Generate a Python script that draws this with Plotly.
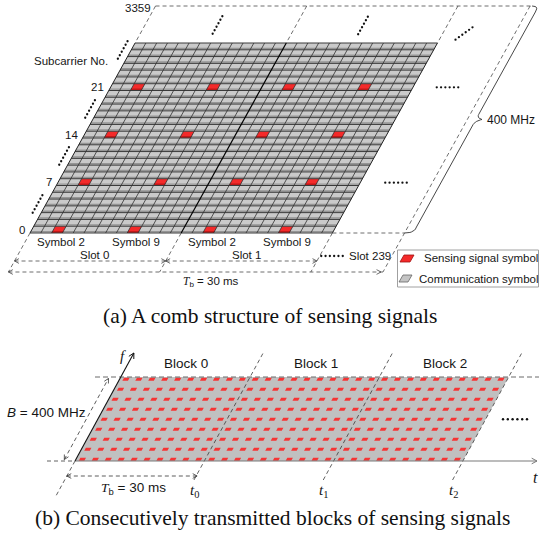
import math
import plotly.graph_objects as go

# ---------------- data ----------------
subcarrier_ticks = [0, 7, 14, 21]          # labelled subcarrier rows
subcarrier_last = 3359                     # last subcarrier index
rows_drawn = 28                            # subcarrier rows drawn in the grid
symbols_per_slot = 14
slots_drawn = [0, 1]
sensing_symbols = [2, 9]                   # sensing symbols inside a slot
comb_spacing = 7                           # comb spacing in subcarriers
last_slot = 239
block_duration_ms = 30
bandwidth_mhz = 400
blocks = [0, 1, 2]
block_time_labels = ["0", "1", "2"]
block_rows = 9                             # rows of sensing dashes per block
block_cols = 10                            # sensing dashes per row per block
legend_items = ["Sensing signal symbol", "Communication symbol"]
caption_a = "(a) A comb structure of sensing signals"
caption_b = "(b) Consecutively transmitted blocks of sensing signals"

# ---------------- geometry (layout only) ----------------
W, H = 539, 537
AX0, AY0, ACW, ARH, ASK = 30.0, 233.0, 10.8, 190.0 / 28, 0.553
A_TOP, A_BOT = 6.0, 272.0
C_FAR = 34.68
BX0, BY0, BH, BW, BSK = 75.0, 461.0, 84.0, 129.3, 0.545

SANS = "Liberation Sans, Arial, sans-serif"
SERIF = "Liberation Serif, Times New Roman, serif"
TXT = "#161616"

n_cols = symbols_per_slot * len(slots_drawn)


def pa(c, r):
    return (AX0 + c * ACW + r * ARH * ASK, AY0 - r * ARH)


def pa_y(c, y):
    return AX0 + c * ACW + (AY0 - y) * ASK


def pb_y(xb, y):
    return xb + (BY0 - y) * BSK


traces = []


def add_line(pts, color, width=1.0, dash=None):
    xs, ys = [], []
    for p in pts:
        if p is None:
            xs.append(None); ys.append(None)
        else:
            xs.append(p[0]); ys.append(p[1])
    traces.append(go.Scatter(x=xs, y=ys, mode="lines",
                             line=dict(color=color, width=width, dash=dash),
                             hoverinfo="skip", showlegend=False))


def add_polys(polys, fill, line_color=None, lw=0):
    xs, ys = [], []
    for poly in polys:
        for p in poly:
            xs.append(p[0]); ys.append(p[1])
        xs.append(poly[0][0]); ys.append(poly[0][1])
        xs.append(None); ys.append(None)
    traces.append(go.Scatter(x=xs, y=ys, mode="lines", fill="toself",
                             fillcolor=fill,
                             line=dict(color=line_color or fill, width=lw),
                             hoverinfo="skip", showlegend=False))


def chevron(tip, d, size=6.0, half=28):
    n = math.hypot(d[0], d[1])
    ux, uy = d[0] / n, d[1] / n
    pts = []
    for s in (1, -1):
        a = math.radians(half * s)
        rx = ux * math.cos(a) - uy * math.sin(a)
        ry = ux * math.sin(a) + uy * math.cos(a)
        pts.append((tip[0] - size * rx, tip[1] - size * ry))
    return [pts[0], tip, pts[1]]


def dots(cx, cy, ang, n=6, sp=4.0, size=2.3):
    a = math.radians(ang)
    xs = [cx + (i - (n - 1) / 2) * sp * math.cos(a) for i in range(n)]
    ys = [cy - (i - (n - 1) / 2) * sp * math.sin(a) for i in range(n)]
    traces.append(go.Scatter(x=xs, y=ys, mode="markers",
                             marker=dict(size=size, color="#111"),
                             hoverinfo="skip", showlegend=False))


def bez(p0, p1, p2, n=10):
    out = []
    for i in range(n + 1):
        t = i / n
        out.append(((1 - t) ** 2 * p0[0] + 2 * (1 - t) * t * p1[0] + t * t * p2[0],
                    (1 - t) ** 2 * p0[1] + 2 * (1 - t) * t * p1[1] + t * t * p2[1]))
    return out


ann = []


def text(x, y, s, size=11.5, family=SANS, xanchor="center", yanchor="middle", color=TXT):
    ann.append(dict(x=x, y=y, xref="x", yref="y", text=s, showarrow=False,
                    xanchor=xanchor, yanchor=yanchor,
                    font=dict(family=family, size=size, color=color)))


# ================= Panel (a) =================
add_polys([[pa(0, 0), pa(n_cols, 0), pa(n_cols, rows_drawn), pa(0, rows_drawn)]], "#cacaca")
band = []
for r in range(rows_drawn):
    band += [pa(0, r + 0.2), pa(n_cols, r + 0.2), None]
add_line(band, "#959595", 1.4)

sense_rows = [r for r in subcarrier_ticks if r % comb_spacing == 0]
sense_cols = [slot * symbols_per_slot + s for slot in slots_drawn for s in sensing_symbols]
red = [[pa(c, r), pa(c + 1, r), pa(c + 1, r + 1), pa(c, r + 1)] for r in sense_rows for c in sense_cols]
add_polys(red, "#f42a2a")
red_b = [[pa(c, r), pa(c + 1, r), pa(c + 1, r + 0.3), pa(c, r + 0.3)] for r in sense_rows for c in sense_cols]
add_polys(red_b, "#c01818")

hl = []
for r in range(rows_drawn + 1):
    hl += [pa(0, r), pa(n_cols, r), None]
add_line(hl, "#3a3a3a", 1.0)
vl = []
for c in range(n_cols + 1):
    if c in (0, symbols_per_slot, n_cols):
        continue
    vl += [pa(c, 0), pa(c, rows_drawn), None]
add_line(vl, "#303030", 0.8)
add_line([pa(0, 0), pa(0, rows_drawn), None, pa(n_cols, 0), pa(n_cols, rows_drawn)], "#222", 1.0)
add_line([pa(symbols_per_slot, 0), pa(symbols_per_slot, rows_drawn)], "#000", 1.2)

DC, DW, DD = "#4a4a4a", 0.8, "4px,3px"
top_y = AY0 - rows_drawn * ARH
ext = []
for c in (0, symbols_per_slot, n_cols):
    ext += [(pa_y(c, A_TOP), A_TOP), (pa_y(c, top_y), top_y), None,
            (pa_y(c, AY0), AY0), (pa_y(c, A_BOT), A_BOT), None]
ext += [(pa_y(C_FAR, A_TOP), A_TOP), (pa_y(C_FAR, A_BOT), A_BOT), None]
ext += [(pa_y(0, A_TOP), A_TOP), (pa_y(C_FAR, A_TOP) + 2, A_TOP), None]
ext += [pa(n_cols, 0), (pa_y(C_FAR, AY0), AY0), None]
add_line(ext, DC, DW, DD)

d = 8.6
e = lambda y: pa_y(C_FAR, y)
ymid = (A_TOP + AY0) / 2
br = []
br += bez((e(AY0), AY0), (e(AY0) + d + 1.5, AY0), (e(AY0 - 6) + d, AY0 - 6))
br += bez((e(ymid + 5) + d, ymid + 5), (e(ymid + 1.5) + d, ymid + 1.5), (e(ymid) + d + 6, ymid))
br += bez((e(ymid) + d + 6, ymid), (e(ymid - 1.5) + d, ymid - 1.5), (e(ymid - 5) + d, ymid - 5))
br += bez((e(A_TOP + 6) + d, A_TOP + 6), (e(A_TOP) + d + 0.5, A_TOP), (e(A_TOP) + 2, A_TOP))
add_line(br, "#333", 0.9)
text(e(ymid) + d + 9, ymid, f"{bandwidth_mhz} MHz", size=12, xanchor="left")

y_slot, y_tb = 261.0, 272.0
arr = []
for slot in slots_drawn:
    xa = pa_y(slot * symbols_per_slot, y_slot)
    xb = pa_y((slot + 1) * symbols_per_slot, y_slot)
    arr += [(xa, y_slot), (xb, y_slot), None]
arr += [(pa_y(0, y_tb), y_tb), (pa_y(C_FAR, y_tb), y_tb), None]
add_line(arr, DC, DW, DD)
chev = []
for slot in slots_drawn:
    xa = pa_y(slot * symbols_per_slot, y_slot)
    xb = pa_y((slot + 1) * symbols_per_slot, y_slot)
    chev += chevron((xa, y_slot), (-1, 0), 5) + [None] + chevron((xb, y_slot), (1, 0), 5) + [None]
chev += chevron((pa_y(0, y_tb), y_tb), (-1, 0), 5) + [None]
chev += chevron((pa_y(C_FAR, y_tb) - 2, y_tb), (1, 0), 5) + [None]
add_line(chev, "#444", 0.8)

text(153, 7.5, str(subcarrier_last), xanchor="right")
text(32, 61, "Subcarrier No.", xanchor="left")
for r in subcarrier_ticks:
    yc = AY0 - (r + 0.5) * ARH
    text(pa_y(0, yc) - 4.5, yc, str(r), xanchor="right")
for slot in slots_drawn:
    for s in sensing_symbols:
        c = slot * symbols_per_slot + s
        text(pa(c + 0.5, 0)[0] + 3.5, 241.5, f"Symbol {s}")
    xm = (pa_y(slot * symbols_per_slot, 254) + pa_y((slot + 1) * symbols_per_slot, 254)) / 2
    text(xm + 1, 254.5, f"Slot {slot}")
dots(332, 256, 0, n=6, sp=4.3)
text(346.5, 256, f"Slot {last_slot}", xanchor="left")
text(211, 282, f"<span style='font-family:Liberation Serif'><i>T</i></span><sub>b</sub> = {block_duration_ms} ms")

sl_ang = math.degrees(math.atan2(1, ASK))
for yc in (204, 156, 109, 50):
    dots(pa_y(0, yc) - 8.5, yc, sl_ang, sp=4.0)
dots(217.5, 25, sl_ang, sp=4.0)
dots(363, 25.5, sl_ang, sp=4.0)
dots(464, 33.5, 36, sp=4.2)
dots(447.5, 87.3, 0, sp=4.3)
dots(396, 182.7, 0, sp=4.3)

add_line([(397.5, 250), (538.5, 250), (538.5, 287), (397.5, 287), (397.5, 250)], "#a0a0a0", 1.0)
add_polys([[(400, 262), (410, 262), (414, 255), (404, 255)]], "#f42a2a", "#a01010", 0.8)
add_polys([[(399, 282), (408, 282), (412, 275), (403, 275)]], "#c4c4c4", "#666", 0.8)
text(421.5, 257.5, legend_items[0], xanchor="left")
text(417.2, 279, legend_items[1], xanchor="left")

text(270, 316, caption_a, size=21.5, family=SERIF, color="#111")

# ================= Panel (b) =================
BTOP = BY0 - BH
xr = BX0 + len(blocks) * BW
add_polys([[(BX0, BY0), (xr, BY0), (pb_y(xr, BTOP), BTOP), (pb_y(BX0, BTOP), BTOP)]], "#c0c0c0")

dw, dh = 5.6, 3.0
pitch_y = (BH - 4) / (block_rows - 1)
pitch_x = BW / block_cols
dash_polys = []
for r in range(block_rows):
    cy = BY0 - 1.7 - r * pitch_y
    for b in blocks:
        for k in range(block_cols):
            cx = pb_y(BX0, cy) + b * BW + (k + 0.5) * pitch_x
            o = dh / 2 * BSK
            dash_polys.append([(cx - dw / 2 - o, cy + dh / 2), (cx + dw / 2 - o, cy + dh / 2),
                               (cx + dw / 2 + o, cy - dh / 2), (cx - dw / 2 + o, cy - dh / 2)])
add_polys(dash_polys, "#f63434")

add_line([(95, BTOP), (539, BTOP)], "#6a6a6a", 1.0, "5px,3px")
bl = []
for k in range(1, len(blocks) + 1):
    xk = BX0 + k * BW
    bl += [(pb_y(xk, 480), 480), (pb_y(xk, 353), 353), None]
bl += [(BX0, BY0), (pb_y(BX0, 497), 497), None]
bl += [(47, BY0), (BX0, BY0), None]
add_line(bl, "#3a3a3a", 0.8, DD)

add_line([(BX0, BY0), (537, BY0)], "#7a7a7a", 1.2)
add_line(chevron((537, BY0), (1, 0), 6), "#7a7a7a", 1.0)
ftip = (pb_y(BX0, 353), 353)
add_line([(BX0, BY0), ftip], "#111", 1.1)
add_line(chevron(ftip, (BSK, -1), 6), "#111", 1.0)

p1 = (pb_y(BX0, 459.5) - 11.5, 459.5)
p2 = (pb_y(BX0, 378.5) - 11.5, 378.5)
add_line([p1, p2], "#333", 0.8, DD)
add_line(chevron(p1, (-BSK, 1), 5) + [None] + chevron(p2, (BSK, -1), 5), "#333", 0.8)
yt = 476.0
q1 = (pb_y(BX0, yt), yt)
q2 = (pb_y(BX0 + BW, yt) + 1, yt)
add_line([q1, q2], "#333", 0.8, DD)
add_line(chevron(q1, (-1, 0), 5) + [None] + chevron(q2, (1, 0), 5), "#333", 0.8)

for b in blocks:
    xm = (pb_y(BX0 + b * BW, BTOP) + pb_y(BX0 + (b + 1) * BW, BTOP)) / 2
    text(xm + 1, 363.5, f"Block {b}", size=13.5)
for k, lab in enumerate(block_time_labels):
    xk = BX0 + (k + 1) * BW
    text(pb_y(xk, 491) + 6.5, 491, f"<i>t</i><sub>{lab}</sub>", size=15, family=SERIF)
text(46.5, 412, f"<i>B</i> = {bandwidth_mhz} MHz", size=13.5)
text(133.3, 488, f"<span style='font-family:Liberation Serif'><i>T</i></span><sub>b</sub> = {block_duration_ms} ms", size=13.5)
text(123.3, 356, "<i>f</i>", size=15, family=SERIF)
text(535.5, 477, "<i>t</i>", size=16, family=SERIF)
dots(515, 419.3, 0, sp=4.8, size=2.4)

text(272, 518, caption_b, size=21.5, family=SERIF, color="#111")

fig = go.Figure(traces)
fig.update_layout(
    width=W, height=H, autosize=False,
    margin=dict(l=0, r=0, t=0, b=0),
    paper_bgcolor="white", plot_bgcolor="white",
    xaxis=dict(range=[0, W], visible=False, fixedrange=True),
    yaxis=dict(range=[H, 0], visible=False, fixedrange=True),
    annotations=ann, showlegend=False,
)
fig.write_html(
    "out.html",
    config={"displayModeBar": False, "staticPlot": True},
    post_script="document.body.style.margin='0px';document.body.style.padding='0px';"
                "document.body.style.overflow='hidden';",
)
